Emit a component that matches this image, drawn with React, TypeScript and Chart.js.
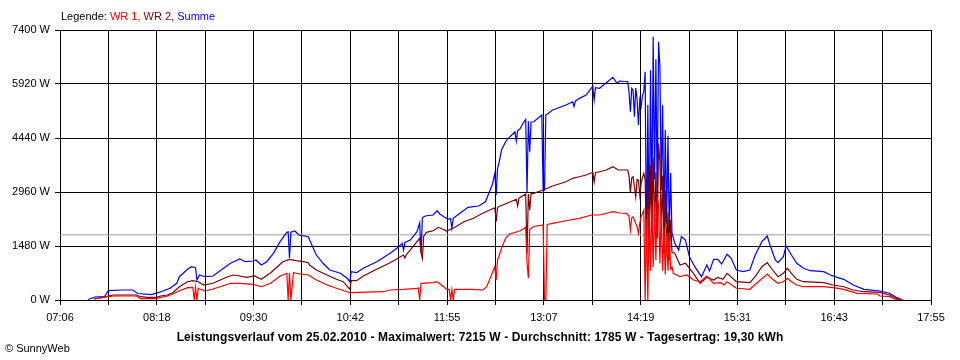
import React, { useEffect, useRef } from 'react';
import { Chart, registerables } from 'chart.js';

Chart.register(...registerables);

// ---------- data ----------
const xTickLabels = ['07:06', '08:18', '09:30', '10:42', '11:55', '13:07', '14:19', '15:31', '16:43', '17:55'];
const yMax = 7400;
const yStep = 1480;
const averageValue = 1785;

const sumTimes = [
  '07:27','07:32','07:39','07:42','07:53','08:00','08:04','08:14','08:19','08:23','08:28','08:33','08:35','08:41','08:44','08:47','08:48','08:50','08:54',
  '09:00','09:13','09:20','09:24','09:30','09:32','09:36','09:40','09:45','09:50','09:55','09:56','09:57','09:58','10:01','10:04','10:11','10:12','10:17',
  '10:22','10:27','10:35','10:40','10:42','10:43','10:47','10:52','11:02','11:12','11:17','11:21','11:22','11:23','11:27','11:32','11:34','11:35','11:36',
  '11:37','11:39','11:44','11:47','11:49','11:52','11:55','11:57','11:58','11:59','12:04','12:10','12:18','12:23','12:25','12:28','12:30','12:31','12:32',
  '12:33','12:35','12:38','12:40','12:45','12:46','12:47','12:49','12:51','12:53','12:54','12:55','12:56','12:57','12:59','13:05','13:06','13:07','13:08',
  '13:09','13:13','13:23','13:28','13:29','13:30','13:33','13:38','13:43','13:44','13:45','13:48','13:53','13:58','14:01','14:03','14:09','14:10','14:11',
  '14:12','14:13','14:14','14:15','14:16','14:17','14:18','14:19','14:20','14:21','14:22','14:23','14:24','14:25','14:26','14:27','14:28','14:29','14:30',
  '14:31','14:32','14:33','14:34','14:35','14:36','14:37','14:38','14:39','14:40','14:41','14:42','14:44','14:47','14:49','14:52','14:55','14:59','15:04',
  '15:08','15:10','15:13','15:16','15:19','15:23','15:26','15:30','15:35','15:40','15:44','15:49','15:53','15:55','15:59','16:01','16:05','16:07','16:11',
  '16:15','16:20','16:25','16:35','16:40','16:45','16:50','16:57','17:05','17:17','17:24','17:29','17:34'
];
const sumValues = [
  15,82,90,255,274,274,178,150,200,255,320,458,638,841,912,885,548,685,638,
  658,1006,1124,1050,1069,1096,959,1050,1280,1598,1855,1870,1143,1860,1891,1781,1734,1644,1233,
  1006,822,732,595,501,775,748,869,1050,1280,1417,1554,1370,1580,1644,1872,2110,1288,2250,
  2283,2310,2329,2447,2357,2283,2219,2230,1965,2239,2376,2540,2576,2693,2877,3151,3471,2877,3600,
  3746,4110,4338,4431,4612,4357,4640,4705,4842,4951,2959,4900,4064,4880,4886,5070,3014,3014,5080,
  5089,5207,5344,5433,5300,5450,5527,5617,5864,5480,5820,5802,5955,6104,5939,6002,5983,5700,5161,
  5800,5755,5024,5810,5500,4796,5481,5300,5600,5709,6257,1288,5350,1650,6300,2200,7215,3300,6600,
  2741,7079,6394,3015,5344,1918,4659,2100,4500,1836,3480,1836,1562,1370,1735,1644,1187,913,639,
  959,795,1115,1115,987,1252,1150,822,776,822,1233,1598,1754,1507,1096,1022,1187,1480,1233,
  1006,869,803,776,685,622,567,411,293,247,184,74,0
];

const wr2Times = [
  '07:31','07:42','07:46','08:03','08:06','08:11','08:18','08:21','08:26','08:30','08:35','08:41','08:45','08:49','08:53','09:00','09:10','09:15','09:20',
  '09:25','09:31','09:36','09:43','09:48','09:52','09:57','10:02','10:07','10:11','10:12','10:17','10:25','10:32','10:37','10:42','10:43','10:47','10:52',
  '11:02','11:12','11:22','11:23','11:24','11:29','11:34','11:35','11:36','11:37','11:39','11:44','11:48','11:51','11:54','11:59','12:07','12:14','12:21',
  '12:29','12:30','12:31','12:32','12:34','12:39','12:46','12:47','12:48','12:53','12:54','12:55','12:56','12:57','12:59','13:06','13:13','13:23','13:28',
  '13:33','13:38','13:43','13:44','13:45','13:48','13:53','13:58','14:02','14:09','14:10','14:11','14:12','14:13','14:14','14:15','14:16','14:17','14:18',
  '14:19','14:20','14:21','14:22','14:23','14:24','14:25','14:26','14:27','14:28','14:29','14:30','14:31','14:32','14:33','14:34','14:35','14:36','14:37',
  '14:38','14:39','14:40','14:41','14:42','14:44','14:48','14:52','14:58','15:03','15:08','15:13','15:16','15:20','15:23','15:30','15:40','15:44','15:49',
  '15:53','15:57','16:01','16:05','16:08','16:11','16:15','16:20','16:35','16:42','16:50','16:57','17:05','17:17','17:24','17:29','17:34'
];
const wr2Values = [
  27,110,137,137,90,74,74,110,137,200,364,501,529,501,411,458,622,685,658,
  622,658,567,748,913,1050,1115,1077,1050,1022,959,822,685,567,501,293,529,529,658,
  841,1022,1233,1150,1240,1461,1691,1300,1143,1750,1855,1899,1992,1946,1891,1965,2146,2239,2376,
  2513,2520,2146,2540,2576,2650,2760,2576,2790,2905,1280,2905,2467,2910,2924,3015,3124,3242,3335,
  3379,3426,3500,3234,3490,3516,3563,3653,3563,3563,3400,2933,3350,3379,3100,2823,3300,3289,2878,
  3200,3350,3472,3300,1288,3600,1400,3700,1800,3900,2000,3500,1700,4290,3800,1900,3400,1250,3000,
  1300,2400,1100,2200,1300,1288,959,1006,732,458,622,548,620,567,732,501,474,639,913,
  1022,822,639,732,869,732,567,501,474,411,364,274,227,211,137,47,0
];

const wr1Times = [
  '07:32','07:42','07:46','08:03','08:06','08:18','08:21','08:26','08:30','08:35','08:41','08:45','08:46','08:47','08:48','08:49','08:50','08:54','09:00',
  '09:07','09:13','09:20','09:30','09:36','09:43','09:50','09:55','09:56','09:57','09:58','10:00','10:05','10:11','10:17','10:25','10:32','10:40','10:42',
  '11:07','11:12','11:22','11:32','11:33','11:34','11:35','11:44','11:47','11:52','11:54','11:56','11:57','11:58','11:59','12:00','12:12','12:21','12:24',
  '12:28','12:30','12:31','12:32','12:33','12:35','12:38','12:41','12:49','12:53','12:54','12:55','12:56','12:59','13:06','13:07','13:08','13:09','13:13',
  '13:23','13:33','13:42','13:48','13:58','14:03','14:08','14:10','14:11','14:12','14:13','14:15','14:16','14:17','14:18','14:19','14:21','14:22','14:23',
  '14:24','14:25','14:26','14:27','14:28','14:29','14:30','14:31','14:32','14:33','14:34','14:35','14:36','14:37','14:38','14:39','14:40','14:41','14:42',
  '14:43','14:48','14:53','14:58','15:03','15:08','15:13','15:18','15:21','15:23','15:30','15:40','15:45','15:53','15:57','16:01','16:05','16:08','16:11',
  '16:15','16:20','16:35','16:42','16:50','17:00','17:15','17:17','17:24','17:29','17:34'
];
const wr1Values = [
  27,90,110,110,36,36,74,110,164,255,337,348,0,343,0,320,301,247,301,
  384,458,458,430,364,458,658,732,0,740,0,748,713,685,548,411,321,227,200,
  227,274,293,321,330,0,458,474,501,364,293,290,0,290,0,293,293,274,364,
  732,913,550,1100,1187,1417,1691,1809,1899,1992,1014,600,1938,2014,2055,0,0,2069,2102,
  2173,2239,2330,2330,2420,2384,2376,2300,1918,2250,2283,2100,2009,1828,2102,2283,2467,0,2200,
  0,2500,800,2600,900,2700,1100,2830,2600,1000,2400,800,2000,700,1800,800,1700,850,900,
  732,639,685,548,501,658,458,474,411,501,321,293,458,713,567,458,501,595,501,
  411,364,364,337,293,184,164,110,90,19,0
];

const legendTitle = 'Legende:';
const seriesNames = ['WR 1', 'WR 2', 'Summe'];
const seriesColors = ['#ff0000', '#800000', '#0000ff'];
const footerText = 'Leistungsverlauf vom 25.02.2010 - Maximalwert: 7215 W - Durchschnitt: 1785 W - Tagesertrag: 19,30 kWh';
const copyrightText = '\u00A9 SunnyWeb';

// ---------- helpers ----------
const toMin = (s: string) => {
  const [h, m] = s.split(':').map(Number);
  return h * 60 + m;
};
const toPoints = (times: string[], vals: number[]) => times.map((t, i) => ({ x: toMin(t), y: vals[i] }));

const FONT = '"Liberation Sans", Arial, sans-serif';

export default function App() {
  const canvasRef = useRef<HTMLCanvasElement | null>(null);

  useEffect(() => {
    if (!canvasRef.current) return;
    const xMin = toMin(xTickLabels[0]);
    const xMax = toMin(xTickLabels[xTickLabels.length - 1]);
    const nInt = (xTickLabels.length - 1) * 2;

    const chart = new Chart(canvasRef.current, {
      type: 'line',
      data: {
        datasets: [
          { label: seriesNames[0], data: toPoints(wr1Times, wr1Values), borderColor: seriesColors[0], borderWidth: 1.2, pointRadius: 0, tension: 0 },
          { label: seriesNames[1], data: toPoints(wr2Times, wr2Values), borderColor: seriesColors[1], borderWidth: 1.2, pointRadius: 0, tension: 0 },
          { label: seriesNames[2], data: toPoints(sumTimes, sumValues), borderColor: seriesColors[2], borderWidth: 1.2, pointRadius: 0, tension: 0 },
          { label: 'avg', data: [{ x: xMin, y: averageValue }, { x: xMax, y: averageValue }], borderColor: '#a0a0a0', borderWidth: 1, pointRadius: 0 },
        ],
      },
      options: {
        responsive: false,
        animation: false,
        events: [],
        layout: { padding: { left: 0, top: 30, right: 29, bottom: 0 } },
        plugins: { legend: { display: false }, tooltip: { enabled: false }, title: { display: false } },
        scales: {
          x: {
            type: 'linear',
            min: xMin,
            max: xMax,
            afterBuildTicks: (scale: any) => {
              const arr = [];
              for (let i = 0; i <= nInt; i++) arr.push({ value: xMin + (i * (xMax - xMin)) / nInt });
              scale.ticks = arr;
            },
            afterFit: (scale: any) => { scale.height = 60; },
            grid: { color: '#000', lineWidth: 1, tickLength: 5, drawTicks: true },
            border: { display: true, color: '#000', width: 1 },
            ticks: {
              autoSkip: false,
              maxRotation: 0,
              padding: 6,
              color: '#000',
              font: { family: FONT, size: 11 },
              callback: (_v: any, index: number) => (index % 2 === 0 ? xTickLabels[index / 2] : ''),
            },
          },
          y: {
            min: 0,
            max: yMax,
            afterFit: (scale: any) => { scale.width = 60; },
            grid: { color: '#000', lineWidth: 1, tickLength: 5, drawTicks: true },
            border: { display: true, color: '#000', width: 1 },
            ticks: {
              stepSize: yStep,
              padding: 5,
              color: '#000',
              font: { family: FONT, size: 11 },
              callback: (v: any) => `${v} W`,
            },
          },
        },
      },
    });
    return () => chart.destroy();
  }, []);

  const textBase: React.CSSProperties = { position: 'absolute', fontFamily: FONT, fontSize: 11, lineHeight: '13px', whiteSpace: 'nowrap', color: '#000' };

  return (
    <div style={{ position: 'absolute', left: 0, top: 0, width: 960, height: 360, background: '#fff', overflow: 'hidden' }}>
      <canvas ref={canvasRef} width={960} height={360} style={{ position: 'absolute', left: 0, top: 0, width: 960, height: 360 }} />
      <div style={{ ...textBase, left: 61, top: 10 }}>
        {legendTitle}{' '}
        <span style={{ color: seriesColors[0] }}>{seriesNames[0]},</span>{' '}
        <span style={{ color: seriesColors[1] }}>{seriesNames[1]},</span>{' '}
        <span style={{ color: seriesColors[2] }}>{seriesNames[2]}</span>
      </div>
      <div style={{ ...textBase, left: 0, width: 960, top: 330, textAlign: 'center', fontWeight: 'bold', fontSize: 12, lineHeight: '14px', letterSpacing: '0.1px' }}>{footerText}</div>
      <div style={{ ...textBase, left: 5, top: 342 }}>{copyrightText}</div>
    </div>
  );
}
